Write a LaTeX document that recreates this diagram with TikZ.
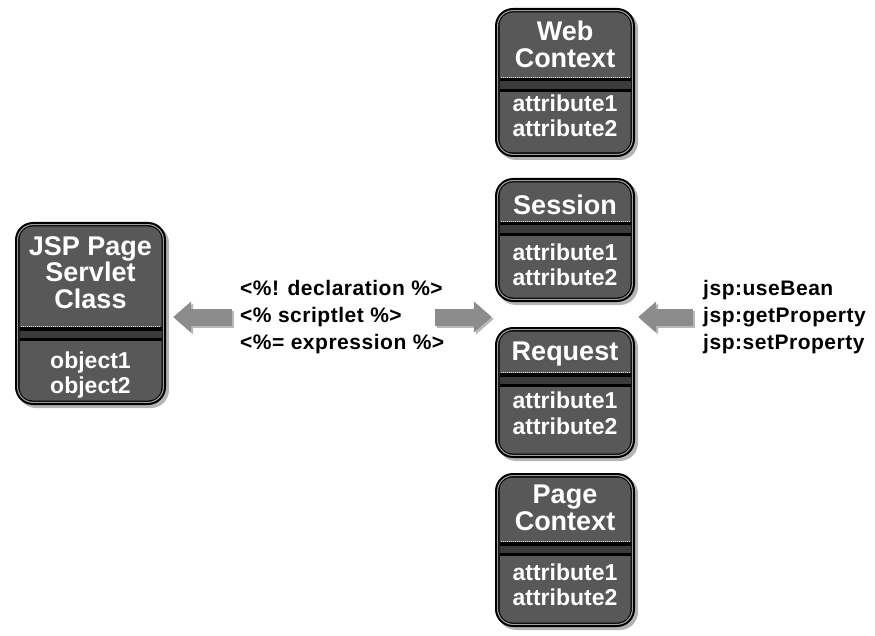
\documentclass[tikz,border=0pt]{standalone}
\usepackage{fontspec}
\setmainfont{Liberation Sans}
\usetikzlibrary{arrows.meta,fit,calc}
\definecolor{boxfill}{HTML}{585858}
\definecolor{bandgray}{HTML}{3A3A3A}
\definecolor{shadowgray}{HTML}{B4B4B4}
\definecolor{arrowgray}{HTML}{8C8C8C}
\definecolor{arrowshade}{HTML}{B8B8B8}
\newcommand{\jframe}[6]{%
  \fill[shadowgray, rounded corners=18] (#2+3,-#3-3) rectangle (#4+3,-#5-3);
  \fill[black, rounded corners=18] (#2,-#3) rectangle (#4,-#5);
  \draw[gray!75, line width=1.1, rounded corners=15.5] (#2+2.6,-#3-2.6) rectangle (#4-2.6,-#5+2.6);
  \fill[boxfill, rounded corners=13] (#2+4.5,-#3-4.5) rectangle (#4-4.5,-#5+4.5);
  \fill[black] (#2+4.5,-#6) rectangle (#4-4.5,-#6-14);
  \fill[bandgray] (#2+4.5,-#6-3.5) rectangle (#4-4.5,-#6-11);
  \draw[gray!15, line width=1, densely dotted] (#2+5.5,-#6+0.3) -- (#4-5.5,-#6+0.3);
  \coordinate (#1-nw) at (#2,-#3);
  \coordinate (#1-se) at (#4,-#5);
  \node[fit=(#1-nw)(#1-se), inner sep=0pt] (#1) {};
}
\tikzset{
  hdr/.style={text=white, align=center, inner sep=0pt, font=\fontsize{27}{26.5}\selectfont\bfseries},
  bdy/.style={text=white, align=center, inner sep=0pt, font=\fontsize{23}{25.5}\selectfont\bfseries},
  side/.style={text=black, align=left, anchor=west, inner sep=0pt, font=\fontsize{21}{26.7}\selectfont\bfseries\addfontfeatures{LetterSpace=2.5}},
  fatarrow/.style={draw=arrowgray, line width=17pt, -{Triangle[length=18pt,width=30pt]}},
  fatshade/.style={draw=arrowshade, line width=17pt, -{Triangle[length=18pt,width=30pt]}}
}
\begin{document}
\begin{tikzpicture}[x=1pt,y=1pt]
\useasboundingbox (0,0) rectangle (875,-636);
% boxes
\jframe{jsp}{15}{222}{166}{405}{327}
\jframe{web}{495}{8}{635}{157}{78}
\jframe{session}{495}{178}{635}{302}{222}
\jframe{request}{495}{327}{635}{458}{373}
\jframe{page}{495}{473}{635}{627}{542}
% box texts
\node[hdr] (jsp-h) at (90.5,-272.5) {JSP Page\\Servlet\\Class};
\node[bdy] (jsp-b) at (90.5,-375) {object1\\object2};
\node[hdr] (web-h) at (565,-44.3) {Web\\Context};
\node[bdy] (web-b) at (565,-115.7) {attribute1\\attribute2};
\node[hdr] (session-h) at (565,-204.8) {Session};
\node[bdy] (session-b) at (565,-264.8) {attribute1\\attribute2};
\node[hdr] (request-h) at (565,-354.5) {Request};
\node[bdy] (request-b) at (565,-413.2) {attribute1\\attribute2};
\node[hdr] (page-h) at (565,-508) {Page\\Context};
\node[bdy] (page-b) at (565,-584.8) {attribute1\\attribute2};
% side texts
\node[side] (decl) at (240,-317) {<\%! declaration \%>\\<\% scriptlet \%>\\<\%= expression \%>};
\node[side] (beans) at (703,-317) {jsp:useBean\\jsp:getProperty\\jsp:setProperty};
% arrows
\draw[fatshade] ([xshift=-6pt,yshift=-2pt]decl.west) -- ([xshift=9pt,yshift=-2pt]decl.west -| jsp.east);
\draw[fatarrow] ([xshift=-8pt]decl.west) -- ([xshift=7pt]decl.west -| jsp.east);
\draw[fatshade] ([xshift=197pt,yshift=-2pt]decl.west) -- ([xshift=-1pt,yshift=-2pt]decl.west -| session.west);
\draw[fatarrow] ([xshift=195pt]decl.west) -- ([xshift=-3pt]decl.west -| session.west);
\draw[fatshade] ([xshift=-8pt,yshift=-2pt]beans.west) -- ([xshift=5pt,yshift=-2pt]beans.west -| request.east);
\draw[fatarrow] ([xshift=-10pt]beans.west) -- ([xshift=3pt]beans.west -| request.east);
\end{tikzpicture}
\end{document}
